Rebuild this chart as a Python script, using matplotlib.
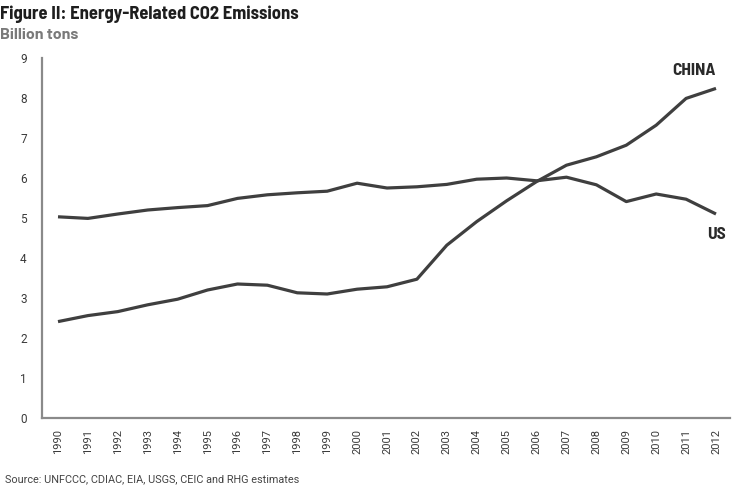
import matplotlib
matplotlib.use("Agg")
import matplotlib.pyplot as plt

years = list(range(1990, 2013))
us = [5.03, 4.99, 5.10, 5.20, 5.26, 5.31, 5.49, 5.58, 5.63, 5.67, 5.87, 5.75,
      5.78, 5.84, 5.97, 6.00, 5.93, 6.02, 5.83, 5.41, 5.60, 5.47, 5.10]
china = [2.41, 2.56, 2.66, 2.83, 2.97, 3.20, 3.35, 3.32, 3.13, 3.10, 3.22, 3.28,
         3.47, 4.32, 4.91, 5.43, 5.91, 6.32, 6.53, 6.82, 7.32, 7.99, 8.24]
y_ticks = list(range(0, 10))

semi = ["Barlow Semi Condensed", "DejaVu Sans"]
wide = ["Barlow", "Barlow Semi Condensed", "DejaVu Sans"]
plain = ["Roboto", "DejaVu Sans"]

line_color = "#3f3f3f"
spine_color = "#8a8a8a"

fig = plt.figure(figsize=(7.32, 4.92), dpi=100)
ax = fig.add_axes([42 / 732, (492 - 418) / 492, (730 - 42) / 732, (418 - 58) / 492])

ax.plot(years, us, color=line_color, lw=2.3, solid_capstyle="butt")
ax.plot(years, china, color=line_color, lw=2.3, solid_capstyle="butt")

ax.set_xlim(1990 - 16 / 29.9, 2012 + 14 / 29.9)
ax.set_ylim(0, 9)
ax.set_yticks(y_ticks)
ax.set_xticks(years)
ax.set_xticklabels([str(y) for y in years], rotation=90, fontsize=8,
                   family=plain, color="#3a3a3a")
ax.set_yticklabels([str(v) for v in y_ticks], fontsize=8.5,
                   family=plain, color="#3a3a3a")
ax.tick_params(axis="both", length=0)
ax.tick_params(axis="x", pad=8)
ax.tick_params(axis="y", pad=11)

for side in ("top", "right"):
    ax.spines[side].set_visible(False)
for side in ("left", "bottom"):
    ax.spines[side].set_color(spine_color)
    ax.spines[side].set_linewidth(1.6)

ax.text(years[-1], china[-1] + 0.25, "CHINA", ha="right", va="bottom",
        fontsize=12.5, fontweight="bold", family=semi, color="#2a2a2a")
ax.text(years[-1] + 0.03, us[-1] - 0.33, "US", ha="center", va="top",
        fontsize=12.5, fontweight="bold", family=semi, color="#2a2a2a")

fig.text(0.0, 1 - 14 / 492, "Figure II: Energy-Related CO2 Emissions", ha="left", va="center",
         fontsize=13.3, fontweight="bold", family=semi, color="#1e1e1e")
fig.text(0.0, 1 - 35 / 492, "Billion tons", ha="left", va="center",
         fontsize=11.5, fontweight="bold", family=wide, color="#7a7a7a")
fig.text(5 / 732, 1 - 479 / 492, "Source: UNFCCC, CDIAC, EIA, USGS, CEIC and RHG estimates",
         ha="left", va="center", fontsize=7.8, family=plain, color="#444444")

fig.savefig("out.png", dpi=100)
